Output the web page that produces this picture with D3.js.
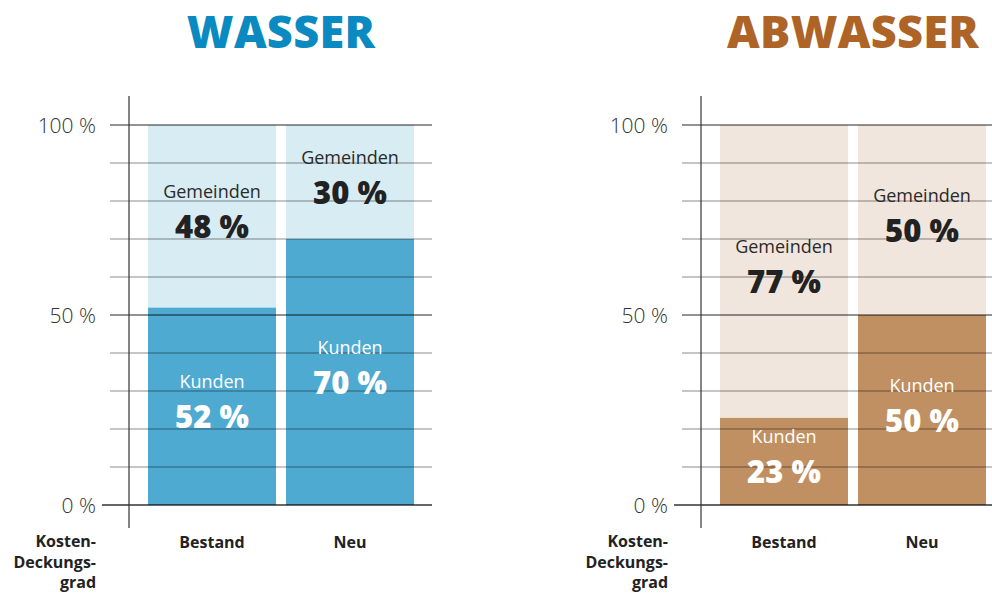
<!DOCTYPE html>
<html><head><meta charset="utf-8">
<script src="https://cdn.jsdelivr.net/npm/d3@7"></script>
<style>
html,body{margin:0;padding:0;background:#fff;}
svg{display:block;font-family:"Open Sans",sans-serif;}
</style></head>
<body>
<svg id="c" width="992" height="593"></svg>
<script>
// ---- data ----
const chartTitles = ["WASSER", "ABWASSER"];
const categories = ["Bestand", "Neu"];
const seriesNames = ["Kunden", "Gemeinden"];
const wasserKunden = [52, 70];
const wasserGemeinden = [48, 30];
const abwasserKunden = [23, 50];
const abwasserGemeinden = [77, 50];
const yTickLabels = [0, 50, 100];
const axisTitle = ["Kosten-", "Deckungs-", "grad"];

const palettes = [
  {title: "#0a8ac1", dark: "#4eaad1", light: "#d8ecf3"},
  {title: "#ad6426", dark: "#c08f62", light: "#f0e6dd"}
];
const charts = [
  {title: chartTitles[0], kunden: wasserKunden, gemeinden: wasserGemeinden, pal: palettes[0], dx: 0},
  {title: chartTitles[1], kunden: abwasserKunden, gemeinden: abwasserGemeinden, pal: palettes[1], dx: 572}
];

const svg = d3.select("#c");
const y = d3.scaleLinear().domain([0, 100]).range([505, 125]);
const fmt = d => d + " %";

charts.forEach(ch => {
  const g = svg.append("g").attr("transform", `translate(${ch.dx},0)`);
  const x = d3.scaleBand().domain(categories).range([148, 414]).paddingInner(10 / 138).paddingOuter(0);

  // title
  g.append("text").attr("x", 281).attr("y", 48).attr("text-anchor", "middle")
    .attr("font-size", 45).attr("font-weight", 800).attr("fill", ch.pal.title)
    .attr("letter-spacing", 0.3)
    .text(ch.title);

  // stacked data
  const rows = categories.map((c, i) => ({cat: c, Kunden: ch.kunden[i], Gemeinden: ch.gemeinden[i]}));
  const stacked = d3.stack().keys(seriesNames)(rows);
  const colors = {Kunden: ch.pal.dark, Gemeinden: ch.pal.light};

  stacked.forEach(layer => {
    g.append("g").selectAll("rect").data(layer).join("rect")
      .attr("x", d => x(d.data.cat)).attr("width", x.bandwidth())
      .attr("y", d => y(d[1])).attr("height", d => y(d[0]) - y(d[1]))
      .attr("fill", colors[layer.key]);
  });

  // gridlines over bars
  const grid = y.ticks(10);
  g.append("g").selectAll("line").data(grid).join("line")
    .attr("x1", d => d === 0 ? 102 : 110).attr("x2", 432)
    .attr("y1", d => y(d)).attr("y2", d => y(d))
    .attr("stroke", "#000")
    .attr("stroke-opacity", d => d === 0 ? 0.6 : (d % 50 === 0 ? 0.85 : 0.45))
    .attr("stroke-width", d => d === 0 ? 2 : 1);

  // vertical axis line
  g.append("line").attr("x1", 129).attr("x2", 129).attr("y1", 96).attr("y2", 528)
    .attr("stroke", "#333").attr("stroke-width", 1.2);

  // y tick labels via axis
  const ax = g.append("g").attr("transform", "translate(96,0)")
    .call(d3.axisLeft(y).tickValues(yTickLabels).tickFormat(fmt).tickSize(0).tickPadding(0));
  ax.select(".domain").remove();
  ax.selectAll("text").attr("font-size", 21).attr("font-weight", 300)
    .attr("fill", "#333").attr("font-family", "'Open Sans',sans-serif").attr("dy", "0.36em");

  // category labels
  g.append("g").selectAll("text").data(categories).join("text")
    .attr("x", d => x(d) + x.bandwidth() / 2).attr("y", 548).attr("text-anchor", "middle")
    .attr("font-size", 16).attr("font-weight", 700).attr("fill", "#222").text(d => d);

  // axis title
  g.append("g").selectAll("text").data(axisTitle).join("text")
    .attr("x", 96).attr("y", (d, i) => 547 + i * 20.5).attr("text-anchor", "end")
    .attr("font-size", 16).attr("font-weight", 700).attr("fill", "#222").text(d => d);

  // segment labels
  stacked.forEach(layer => {
    const isK = layer.key === "Kunden";
    const lg = g.append("g").selectAll("g").data(layer).join("g")
      .attr("transform", d => `translate(${x(d.data.cat) + x.bandwidth() / 2},${y((d[0] + d[1]) / 2) - 5})`);
    lg.append("text").attr("y", -13).attr("text-anchor", "middle")
      .attr("font-size", 18).attr("font-weight", 400)
      .attr("fill", isK ? "#fff" : "#2a2a2a").text(layer.key);
    lg.append("text").attr("y", 27).attr("text-anchor", "middle")
      .attr("font-size", 31).attr("font-weight", 800)
      .attr("fill", isK ? "#fff" : "#222").text(d => fmt(d.data[layer.key]));
  });
});
</script>
</body></html>
